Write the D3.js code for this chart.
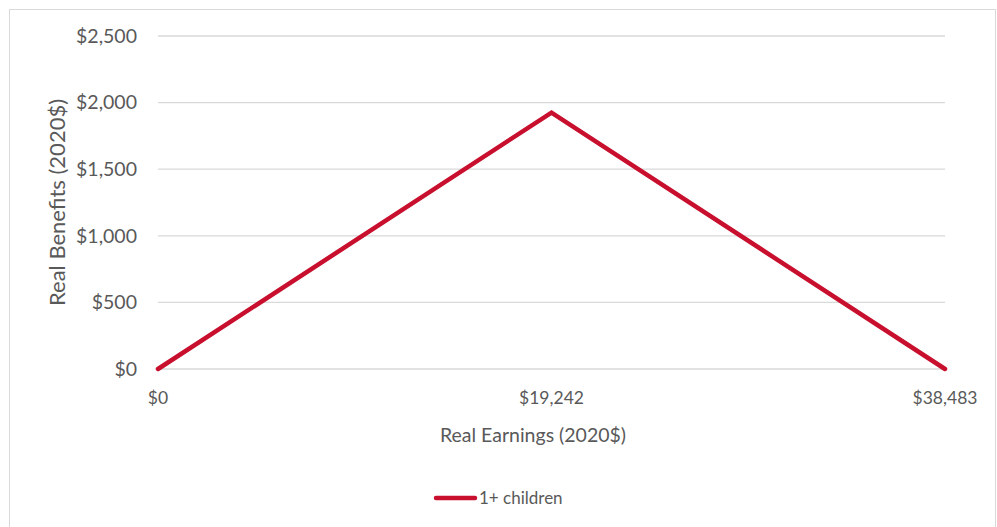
<!DOCTYPE html>
<html>
<head>
<meta charset="utf-8">
<script src="https://cdn.jsdelivr.net/npm/d3@7"></script>
<style>
  html, body { margin: 0; padding: 0; background: #fff; }
  svg text { font-family: Lato, "Open Sans", sans-serif; fill: #595959; }
</style>
</head>
<body>
<svg id="chart" width="997" height="527"></svg>
<script>
// Benefit schedule: phase-in to a peak, then phase-out
const earningsLabels = ["$0", "$19,242", "$38,483"];
const benefits = [0, 1925, 0];
const seriesName = "1+ children";
const yTicks = [0, 500, 1000, 1500, 2000, 2500];

const svg = d3.select("#chart");
const W = 997, H = 527;
const margin = { left: 158, right: 52, top: 36, bottom: 158 };

// chart frame
svg.append("rect")
  .attr("x", 9.5).attr("y", 9.5)
  .attr("width", W - 11).attr("height", H - 9)
  .attr("fill", "#fff").attr("stroke", "#d9d9d9").attr("stroke-width", 1);

const x = d3.scalePoint()
  .domain(earningsLabels)
  .range([margin.left, W - margin.right]);

const y = d3.scaleLinear()
  .domain([0, 2500])
  .range([H - margin.bottom, margin.top]);

// horizontal gridlines
svg.append("g").selectAll("line")
  .data(yTicks)
  .join("line")
  .attr("x1", margin.left).attr("x2", W - margin.right)
  .attr("y1", d => y(d)).attr("y2", d => y(d))
  .attr("stroke", "#d9d9d9").attr("stroke-width", 1.3);

// y axis labels
const fmt = d => "$" + d3.format(",")(d);
svg.append("g").selectAll("text")
  .data(yTicks)
  .join("text")
  .attr("x", margin.left - 21)
  .attr("y", d => y(d))
  .attr("dy", "0.35em")
  .attr("text-anchor", "end")
  .attr("font-size", 19.5)
  .text(fmt);

// x axis labels
svg.append("g").selectAll("text")
  .data(earningsLabels)
  .join("text")
  .attr("x", d => x(d))
  .attr("y", y(0) + 35)
  .attr("text-anchor", "middle")
  .attr("font-size", 17.5)
  .text(d => d);

// axis titles
svg.append("text")
  .attr("x", 533)
  .attr("y", 442)
  .attr("text-anchor", "middle")
  .attr("font-size", 19.5)
  .text("Real Earnings (2020$)");

svg.append("text")
  .attr("transform", `translate(65, ${y(1250)}) rotate(-90)`)
  .attr("text-anchor", "middle")
  .attr("font-size", 22)
  .text("Real Benefits (2020$)");

// series line
const line = d3.line()
  .x((d, i) => x(earningsLabels[i]))
  .y(d => y(d));

svg.append("path")
  .datum(benefits)
  .attr("d", line)
  .attr("fill", "none")
  .attr("stroke", "#c8102e")
  .attr("stroke-width", 4.5)
  .attr("stroke-linejoin", "miter")
  .attr("stroke-linecap", "round");

// legend
const lg = svg.append("g").attr("transform", "translate(436, 498)");
lg.append("line")
  .attr("x1", 0).attr("x2", 39)
  .attr("stroke", "#c8102e").attr("stroke-width", 4.5)
  .attr("stroke-linecap", "round");
lg.append("text")
  .attr("x", 43).attr("dy", "0.35em")
  .attr("font-size", 17)
  .text(seriesName);
</script>
</body>
</html>
